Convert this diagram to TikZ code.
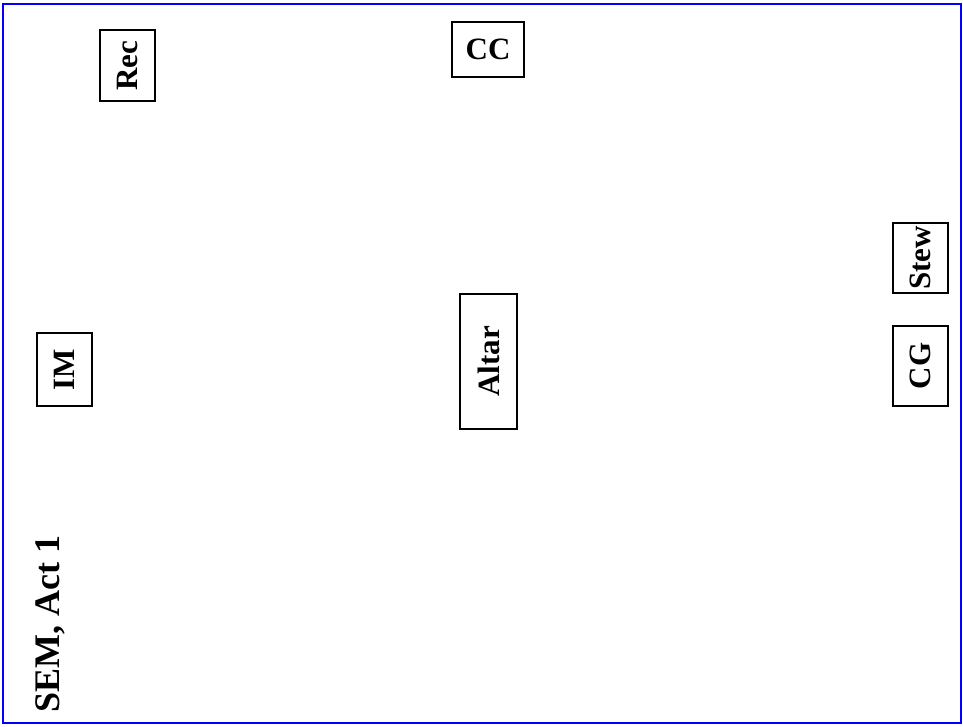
\documentclass[tikz,border=0pt]{standalone}
\usepackage{fontspec}
\setmainfont{Liberation Serif}
\begin{document}
\begin{tikzpicture}[x=1pt,y=-1pt,
  lbl/.style={font=\fontsize{31}{36}\selectfont\bfseries, text=black},
  box/.style={lbl, draw=black, line width=2pt, inner sep=0pt, fill=white},
  vbox/.style={box, rotate=90}]
\useasboundingbox (0,0) rectangle (963,726);
\draw[draw={rgb,255:red,0;green,0;blue,255}, line width=2pt] (2.5,3.5) rectangle (960.5,723);
\node[vbox, minimum width=71pt, minimum height=55pt] (rec) at (127.5,65.5) {Rec};
\node[box, minimum width=72pt, minimum height=55pt] (cc) at (488,49.5) {CC};
\node[vbox, minimum width=70pt, minimum height=55pt] (stew) at (920.5,258) {Stew};
\node[vbox, minimum width=80pt, minimum height=55pt] (cg) at (920.5,366) {CG};
\node[vbox, minimum width=135pt, minimum height=57pt] (altar) at (488.5,361.5) {Altar};
\node[vbox, minimum width=73pt, minimum height=55pt] (im) at (64.5,369.5) {IM};
\node[font=\fontsize{36}{42}\selectfont\bfseries, rotate=90, anchor=base west, inner sep=0pt] (title) at (59,713) {SEM, Act 1};
\end{tikzpicture}
\end{document}
